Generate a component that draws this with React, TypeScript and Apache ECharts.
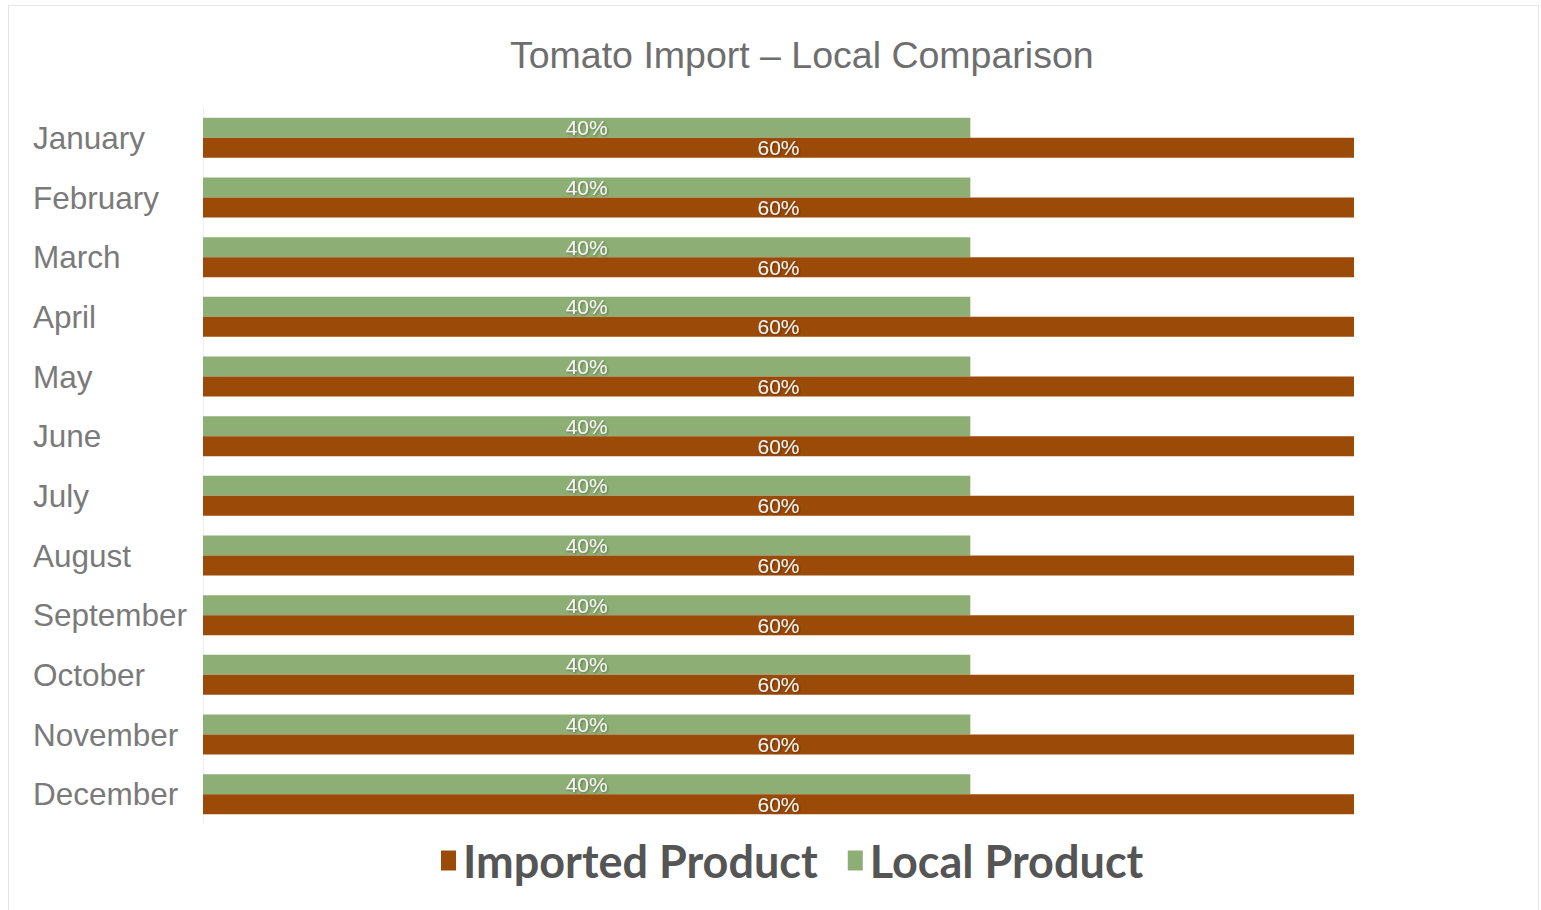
import React, { useEffect, useRef } from "react";
import * as echarts from "echarts";

const months = [
  "January", "February", "March", "April", "May", "June",
  "July", "August", "September", "October", "November", "December",
];
const localValues = [0.4, 0.4, 0.4, 0.4, 0.4, 0.4, 0.4, 0.4, 0.4, 0.4, 0.4, 0.4];
const importedValues = [0.6, 0.6, 0.6, 0.6, 0.6, 0.6, 0.6, 0.6, 0.6, 0.6, 0.6, 0.6];
const titleText = "Tomato Import \u2013 Local Comparison";
const seriesNames = ["Imported Product", "Local Product"];

export default function App() {
  const ref = useRef<HTMLDivElement>(null);
  useEffect(() => {
    if (!ref.current) return;
    const chart = echarts.init(ref.current, null, { renderer: "svg" });
    const labelStyle = {
      show: true,
      position: "inside",
      color: "#f6f6f6",
      fontSize: 21,
      fontFamily: "Liberation Sans, Arial, sans-serif",
      textShadowColor: "rgba(0,0,0,0.35)",
      textShadowBlur: 2,
      textShadowOffsetX: 1,
      textShadowOffsetY: 1,
      formatter: (p: any) => Math.round(p.value * 100) + "%",
    };
    chart.setOption({
      animation: false,
      backgroundColor: "#ffffff",
      title: {
        text: titleText,
        left: 505,
        top: 31,
        textStyle: {
          color: "#6e6e6e",
          fontSize: 37.5,
          fontWeight: "normal",
          fontFamily: "Liberation Sans, Arial, sans-serif",
        },
      },
      legend: {
        data: seriesNames,
        bottom: 22,
        left: 436,
        itemWidth: 15,
        itemHeight: 20,
        itemGap: 30,
        icon: "rect",
        textStyle: {
          color: "#555555",
          fontSize: 45,
          fontWeight: "bold",
          fontFamily: "Lato, sans-serif",
          padding: [0, 0, 0, 2],
        },
      },
      grid: { left: 203, right: 187, top: 108, bottom: 86, containLabel: false },
      xAxis: {
        type: "value",
        min: 0,
        max: 0.6,
        show: false,
      },
      yAxis: {
        type: "category",
        data: months,
        inverse: true,
        axisLine: { show: true, lineStyle: { color: "#efefef", width: 1 } },
        axisTick: { show: false },
        axisLabel: {
          align: "left",
          margin: 170,
          color: "#7a7a7a",
          fontSize: 31.5,
          fontFamily: "Liberation Sans, Arial, sans-serif",
        },
        splitLine: { show: false },
      },
      series: [
        {
          name: "Local Product",
          type: "bar",
          data: localValues,
          barWidth: 20,
          barGap: "0%",
          itemStyle: { color: "#8dae74" },
          label: labelStyle,
        },
        {
          name: "Imported Product",
          type: "bar",
          data: importedValues,
          barWidth: 20,
          barGap: "0%",
          itemStyle: { color: "#9b4a08" },
          label: labelStyle,
        },
      ],
      graphic: [
        {
          type: "rect",
          shape: { x: 8.5, y: 5.5, width: 1530, height: 920 },
          style: { fill: "none", stroke: "#e4e4e4", lineWidth: 1 },
          silent: true,
        },
      ],
    });
    return () => chart.dispose();
  }, []);
  return (
    <div
      ref={ref}
      style={{ position: "fixed", left: 0, top: 0, width: 1541, height: 910 }}
    />
  );
}
